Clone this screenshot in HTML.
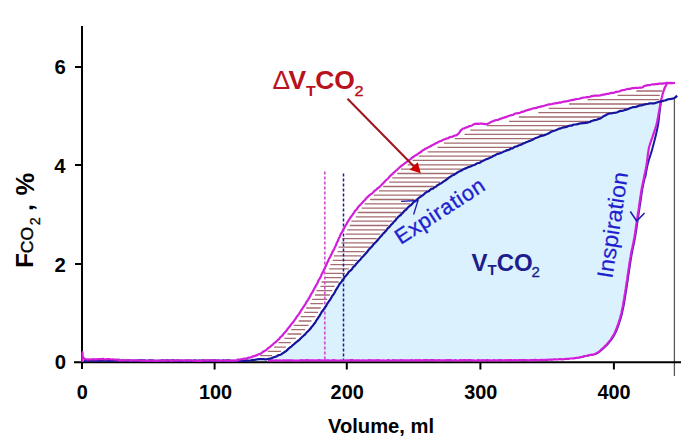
<!DOCTYPE html>
<html><head><meta charset="utf-8"><style>
html,body{margin:0;padding:0;background:#fff;}
body{width:685px;height:440px;overflow:hidden;position:relative;font-family:"Liberation Sans", sans-serif;}
svg{position:absolute;left:0;top:0;}
</style></head><body>
<svg width="685" height="440" viewBox="0 0 685 440" font-family='"Liberation Sans", sans-serif'>
<rect width="685" height="440" fill="#fff"/>
<path d="M84.0,360.5 L84.0,360.6 L84.8,360.6 L85.6,360.6 L86.5,360.6 L87.4,360.6 L88.3,360.6 L89.3,360.6 L90.3,360.6 L91.4,360.6 L92.5,360.6 L93.6,360.6 L94.8,360.6 L96.0,360.6 L97.3,360.6 L98.6,360.6 L99.9,360.6 L101.2,360.6 L102.6,360.6 L104.0,360.6 L105.4,360.6 L106.9,360.6 L108.4,360.6 L109.9,360.6 L111.4,360.6 L113.0,360.6 L114.6,360.6 L116.2,360.6 L117.8,360.6 L119.5,360.6 L121.1,360.6 L122.8,360.6 L124.5,360.6 L126.2,360.6 L128.0,360.6 L129.7,360.6 L131.5,360.6 L133.3,360.6 L135.1,360.6 L136.9,360.6 L138.7,360.6 L140.5,360.6 L142.3,360.6 L144.2,360.6 L146.0,360.6 L147.9,360.6 L149.7,360.6 L151.6,360.6 L153.5,360.6 L155.3,360.6 L157.2,360.6 L159.0,360.6 L160.9,360.6 L162.8,360.6 L164.6,360.6 L166.5,360.6 L168.4,360.6 L170.2,360.6 L172.0,360.6 L173.9,360.6 L175.7,360.6 L177.5,360.6 L179.3,360.6 L181.1,360.6 L182.9,360.6 L184.7,360.6 L186.4,360.6 L188.2,360.6 L189.9,360.6 L191.6,360.6 L193.3,360.6 L195.0,360.6 L196.6,360.6 L198.3,360.6 L199.9,360.6 L201.5,360.6 L203.1,360.6 L204.6,360.6 L206.1,360.6 L207.6,360.6 L209.1,360.6 L210.6,360.6 L212.0,360.6 L213.4,360.6 L214.7,360.6 L216.0,360.6 L217.3,360.6 L218.6,360.6 L219.8,360.6 L221.0,360.6 L222.2,360.6 L223.3,360.6 L224.4,360.6 L225.4,360.6 L226.4,360.6 L227.4,360.6 L228.3,360.6 L229.2,360.6 L230.0,360.6 L237.9,360.6 L242.4,360.7 L244.2,360.7 L244.3,360.8 L243.3,360.8 L242.0,360.8 L241.3,360.8 L242.0,360.8 L243.5,360.7 L245.0,360.6 L246.5,360.5 L248.1,360.4 L249.6,360.2 L251.2,360.1 L252.7,359.9 L254.2,359.8 L255.7,359.7 L257.3,359.6 L258.9,359.5 L260.6,359.5 L262.1,359.4 L263.7,359.4 L265.2,359.3 L266.6,359.2 L267.9,359.0 L269.8,358.6 L271.5,358.2 L273.0,357.6 L274.5,357.0 L276.1,356.4 L277.5,355.8 L278.8,355.3 L280.2,354.6 L281.6,353.9 L282.9,353.2 L284.3,352.3 L285.5,351.5 L286.6,350.6 L287.8,349.6 L289.0,348.6 L290.2,347.5 L291.4,346.4 L292.7,345.3 L293.9,344.3 L295.1,343.3 L296.4,342.3 L297.7,341.2 L299.0,340.1 L300.3,339.0 L301.6,337.8 L302.9,336.6 L303.9,335.6 L305.0,334.5 L306.1,333.4 L307.1,332.3 L308.2,331.1 L309.2,329.9 L310.3,328.8 L311.3,327.6 L312.3,326.4 L313.2,325.2 L314.2,323.9 L315.1,322.6 L316.0,321.2 L316.9,319.9 L317.8,318.5 L318.6,317.2 L319.5,315.8 L320.4,314.4 L321.3,313.0 L322.1,311.7 L322.9,310.5 L323.7,309.3 L324.5,308.1 L325.3,306.9 L326.2,305.6 L327.0,304.3 L328.0,302.9 L328.9,301.3 L330.0,299.7 L330.7,298.6 L331.5,297.4 L332.3,296.1 L333.1,294.8 L334.0,293.4 L334.9,292.0 L335.8,290.5 L336.7,289.1 L337.6,287.6 L338.5,286.2 L339.3,284.9 L340.2,283.5 L341.0,282.3 L341.8,281.1 L342.5,280.0 L343.2,279.0 L344.6,277.1 L345.7,275.7 L346.7,274.5 L347.7,273.5 L348.6,272.5 L349.7,271.4 L350.9,270.0 L351.9,268.9 L352.9,267.7 L353.9,266.5 L355.0,265.3 L356.2,264.0 L357.3,262.8 L358.4,261.5 L359.6,260.2 L360.7,258.9 L361.8,257.7 L362.9,256.5 L364.0,255.3 L365.1,254.0 L366.2,252.8 L367.2,251.6 L368.3,250.4 L369.4,249.2 L370.5,247.9 L371.6,246.7 L372.7,245.5 L373.7,244.4 L374.7,243.3 L375.7,242.2 L376.7,241.0 L377.7,239.9 L378.7,238.8 L379.7,237.7 L380.7,236.6 L381.7,235.4 L382.7,234.3 L383.7,233.2 L384.8,231.9 L386.0,230.6 L387.2,229.3 L388.3,227.9 L389.5,226.6 L390.6,225.3 L391.7,224.1 L392.8,222.9 L393.7,221.9 L394.6,220.9 L395.9,219.5 L396.6,218.7 L397.3,218.1 L398.3,217.1 L400.0,215.5 L400.8,214.7 L401.7,213.9 L402.7,212.9 L403.7,211.9 L404.8,210.8 L406.0,209.7 L407.2,208.5 L408.5,207.3 L409.7,206.2 L410.9,205.0 L412.1,203.9 L413.3,202.8 L414.4,201.8 L415.4,200.8 L416.4,200.0 L417.9,198.8 L419.2,197.7 L420.4,196.7 L421.6,195.8 L422.8,195.0 L423.9,194.2 L425.0,193.5 L426.2,192.7 L427.5,191.8 L428.8,190.9 L430.2,190.0 L431.6,189.1 L433.0,188.2 L434.5,187.4 L435.9,186.5 L437.3,185.6 L438.7,184.8 L440.0,183.9 L441.4,182.9 L442.8,182.0 L444.2,181.0 L445.6,180.0 L446.9,179.1 L448.2,178.2 L449.5,177.3 L450.9,176.4 L452.3,175.6 L453.6,174.7 L455.0,173.9 L456.4,173.1 L457.7,172.4 L459.1,171.6 L460.4,170.9 L461.8,170.2 L463.4,169.5 L464.9,168.8 L466.5,168.1 L468.0,167.4 L469.6,166.8 L471.1,166.2 L472.7,165.5 L474.1,164.9 L475.4,164.3 L476.8,163.7 L478.2,163.2 L479.6,162.6 L481.0,162.0 L482.3,161.3 L483.7,160.7 L485.1,160.0 L486.4,159.3 L487.8,158.6 L489.2,157.9 L490.5,157.2 L491.9,156.5 L493.2,155.8 L494.6,155.2 L496.1,154.5 L497.6,153.9 L499.1,153.3 L500.6,152.7 L502.1,152.1 L503.8,151.5 L505.5,150.8 L506.8,150.3 L508.2,149.7 L509.6,149.2 L511.1,148.6 L512.6,148.0 L514.1,147.4 L515.6,146.8 L517.1,146.2 L518.6,145.6 L520.0,145.0 L521.6,144.4 L523.1,143.7 L524.6,143.1 L526.1,142.4 L527.6,141.8 L529.1,141.1 L530.6,140.5 L532.1,139.8 L533.6,139.2 L535.1,138.6 L536.6,138.0 L538.2,137.3 L539.7,136.7 L541.2,136.1 L542.7,135.5 L544.3,134.9 L545.8,134.3 L547.3,133.7 L548.8,133.1 L550.3,132.4 L551.8,131.8 L553.3,131.1 L554.9,130.5 L556.4,129.9 L557.9,129.3 L559.4,128.7 L560.9,128.2 L562.4,127.7 L563.9,127.3 L565.5,126.9 L567.0,126.5 L568.5,126.1 L570.0,125.8 L571.6,125.5 L573.1,125.1 L574.6,124.8 L576.1,124.5 L577.7,124.2 L579.2,123.9 L580.8,123.6 L582.3,123.3 L583.8,123.0 L585.3,122.7 L586.8,122.4 L588.2,122.1 L589.8,121.7 L591.4,121.3 L593.0,120.9 L594.5,120.5 L596.0,120.1 L597.4,119.6 L598.8,119.2 L600.0,118.7 L601.6,117.9 L602.7,117.1 L603.8,116.2 L605.1,115.4 L606.8,114.6 L608.0,114.2 L609.4,113.8 L610.9,113.4 L612.4,113.1 L614.0,112.7 L615.7,112.4 L617.3,112.0 L618.9,111.6 L620.5,111.2 L622.0,110.8 L623.6,110.3 L625.1,109.8 L626.7,109.4 L628.2,108.9 L629.8,108.4 L631.3,107.9 L632.7,107.5 L634.1,107.1 L635.8,106.6 L637.4,106.2 L639.0,105.7 L640.6,105.3 L642.1,105.0 L643.5,104.6 L645.0,104.3 L646.7,104.0 L648.2,103.8 L649.8,103.7 L651.4,103.5 L652.9,103.3 L654.6,103.0 L656.1,102.7 L657.7,102.3 L659.3,101.9 L660.4,103.9 L660.1,105.4 L659.8,107.0 L659.5,108.5 L659.3,110.1 L659.0,111.6 L658.7,113.2 L658.4,114.7 L658.2,116.3 L657.9,117.8 L657.6,119.3 L657.3,120.9 L657.0,122.5 L656.6,124.1 L656.2,125.6 L655.7,127.1 L655.3,128.7 L654.7,130.2 L654.2,131.8 L653.7,133.4 L653.2,134.9 L652.7,136.4 L652.2,138.0 L651.6,139.4 L651.1,140.8 L650.6,142.2 L650.1,143.7 L649.6,145.4 L649.1,147.3 L648.8,148.6 L648.6,150.0 L648.4,151.4 L648.1,153.0 L647.9,154.6 L647.7,156.2 L647.5,157.8 L647.3,159.4 L647.1,161.0 L646.9,162.6 L646.6,164.1 L646.4,165.5 L646.1,167.3 L645.8,169.1 L645.4,170.8 L645.1,172.4 L644.7,174.1 L644.4,175.6 L644.1,177.2 L643.8,178.6 L643.5,180.0 L643.1,181.9 L642.8,183.4 L642.5,184.9 L642.2,186.4 L641.8,188.0 L641.5,190.0 L641.3,191.4 L641.0,192.8 L640.8,194.3 L640.6,195.9 L640.3,197.6 L640.1,199.3 L639.8,200.9 L639.6,202.6 L639.3,204.3 L639.1,205.9 L638.9,207.5 L638.6,209.1 L638.4,210.7 L638.1,212.3 L637.9,213.8 L637.7,215.4 L637.4,217.0 L637.2,218.6 L636.9,220.2 L636.7,221.8 L636.5,223.4 L636.2,225.0 L636.0,226.6 L635.8,228.2 L635.6,229.8 L635.3,231.3 L635.1,232.9 L634.8,234.5 L634.6,236.1 L634.3,237.7 L634.0,239.3 L633.7,240.9 L633.4,242.5 L633.0,244.1 L632.7,245.7 L632.4,247.3 L632.0,248.9 L631.7,250.4 L631.4,252.0 L631.1,253.6 L630.8,255.2 L630.6,256.7 L630.3,258.2 L630.1,259.7 L629.8,261.2 L629.6,262.7 L629.3,264.3 L629.1,265.8 L628.9,267.4 L628.6,269.1 L628.4,270.5 L628.2,272.0 L628.0,273.4 L627.7,274.9 L627.5,276.4 L627.3,277.9 L627.1,279.4 L626.9,281.0 L626.6,282.5 L626.4,284.1 L626.2,285.7 L625.9,287.3 L625.7,288.8 L625.4,290.4 L625.2,292.0 L624.9,293.7 L624.6,295.3 L624.4,297.0 L624.1,298.7 L623.8,300.3 L623.6,301.9 L623.3,303.5 L623.0,305.0 L622.8,306.4 L622.5,307.7 L622.1,309.7 L621.7,311.4 L621.4,313.0 L621.0,314.5 L620.6,316.0 L620.2,317.4 L619.8,318.9 L619.3,320.4 L618.8,321.8 L618.4,323.3 L617.9,324.8 L617.4,326.3 L616.8,327.7 L616.3,329.2 L615.7,330.6 L615.1,331.9 L614.5,333.2 L613.7,334.8 L612.8,336.2 L611.9,337.7 L611.0,339.0 L610.1,340.3 L609.1,341.5 L608.2,342.7 L607.1,344.0 L606.1,345.1 L605.0,346.2 L603.9,347.2 L602.9,348.2 L601.8,349.1 L600.6,350.2 L599.4,351.2 L598.2,352.2 L596.9,353.1 L595.4,353.8 L594.0,354.3 L592.5,354.7 L590.8,355.0 L589.2,355.3 L587.5,355.6 L585.9,355.9 L584.4,356.2 L583.0,356.6 L581.6,356.9 L580.1,357.2 L578.4,357.5 L576.4,357.8 L575.1,358.0 L573.9,358.1 L572.7,358.3 L571.5,358.5 L570.1,358.6 L568.6,358.8 L566.9,358.9 L564.9,359.0 L562.6,359.2 L560.0,359.3 L558.9,359.3 L557.9,359.4 L556.9,359.4 L555.9,359.5 L555.0,359.5 L554.0,359.6 L553.0,359.6 L552.1,359.6 L551.0,359.7 L550.0,359.7 L548.9,359.8 L547.7,359.8 L546.5,359.8 L545.2,359.9 L543.8,359.9 L542.3,359.9 L540.7,360.0 L539.0,360.0 L537.1,360.0 L535.2,360.1 L533.1,360.1 L530.8,360.1 L528.4,360.1 L525.8,360.2 L523.0,360.2 L520.0,360.2 L519.0,360.2 L517.9,360.2 L516.9,360.2 L515.8,360.2 L514.7,360.2 L513.5,360.2 L512.3,360.2 L511.2,360.2 L509.9,360.2 L508.7,360.3 L507.4,360.3 L506.1,360.3 L504.8,360.3 L503.5,360.3 L502.2,360.3 L500.8,360.3 L499.4,360.3 L498.0,360.3 L496.6,360.3 L495.2,360.3 L493.7,360.3 L492.2,360.3 L490.7,360.3 L489.2,360.3 L487.7,360.3 L486.2,360.3 L484.7,360.3 L483.1,360.3 L481.6,360.3 L480.0,360.3 L478.4,360.3 L476.8,360.3 L475.2,360.3 L473.6,360.3 L472.0,360.3 L470.3,360.3 L468.7,360.3 L467.1,360.3 L465.4,360.3 L463.8,360.3 L462.1,360.3 L460.4,360.3 L458.8,360.3 L457.1,360.3 L455.4,360.3 L453.7,360.3 L452.1,360.3 L450.4,360.3 L448.7,360.3 L447.1,360.3 L445.4,360.3 L443.7,360.3 L442.0,360.3 L440.4,360.3 L438.7,360.3 L437.0,360.3 L435.4,360.3 L433.7,360.3 L432.1,360.3 L430.5,360.3 L428.8,360.3 L427.2,360.3 L425.6,360.3 L424.0,360.3 L422.4,360.3 L420.8,360.3 L419.2,360.3 L417.7,360.3 L416.1,360.3 L414.6,360.3 L413.1,360.3 L411.6,360.3 L410.1,360.3 L408.6,360.3 L407.1,360.3 L405.6,360.3 L404.2,360.3 L402.8,360.3 L401.4,360.3 L400.0,360.3 L398.3,360.3 L396.7,360.3 L395.0,360.3 L393.3,360.3 L391.6,360.3 L389.9,360.3 L388.2,360.3 L386.5,360.3 L384.8,360.3 L383.1,360.3 L381.4,360.3 L379.7,360.3 L378.0,360.3 L376.3,360.3 L374.6,360.3 L372.9,360.3 L371.1,360.3 L369.4,360.3 L367.7,360.3 L366.0,360.3 L364.4,360.3 L362.7,360.3 L361.0,360.3 L359.3,360.3 L357.6,360.3 L356.0,360.3 L354.3,360.3 L352.6,360.3 L351.0,360.3 L349.4,360.3 L347.7,360.3 L346.1,360.3 L344.5,360.3 L342.9,360.4 L341.3,360.4 L339.7,360.4 L338.2,360.4 L336.6,360.4 L335.1,360.4 L333.5,360.4 L332.0,360.4 L330.5,360.4 L329.0,360.4 L327.6,360.4 L326.1,360.4 L324.7,360.4 L323.2,360.4 L321.8,360.4 L320.4,360.4 L319.1,360.4 L317.7,360.4 L316.4,360.4 L315.1,360.4 L313.8,360.4 L312.5,360.4 L311.2,360.4 L310.0,360.4 L308.8,360.4 L307.6,360.4 L306.5,360.4 L305.3,360.4 L304.2,360.4 L303.1,360.4 L302.1,360.4 L301.0,360.4 L300.0,360.4 L297.0,360.4 L294.2,360.4 L291.6,360.4 L289.2,360.4 L287.0,360.4 L285.0,360.4 L283.1,360.4 L281.4,360.4 L279.8,360.4 L278.4,360.5 L277.1,360.5 L275.9,360.5 L274.8,360.5 L273.8,360.5 L272.8,360.5 L271.9,360.5 L271.1,360.5 L270.3,360.5 L269.5,360.5 L268.8,360.5 L268.0,360.5 L84.0,360.5 Z" fill="#dbf1fd" stroke="none"/>
<path d="M636.3,91.0 H662.0 M617.6,95.3 H659.8 M587.7,99.7 H659.1 M569.0,104.0 H644.8 M548.7,108.4 H628.4 M538.3,112.7 H611.6 M518.9,117.0 H600.6 M509.1,121.4 H589.3 M486.8,125.7 H568.9 M470.3,130.1 H553.4 M464.5,134.4 H543.4 M454.9,138.7 H532.9 M443.9,143.1 H523.0 M437.5,147.4 H511.5 M427.6,151.8 H500.9 M418.7,156.1 H490.9 M412.6,160.4 H482.7 M407.6,164.8 H471.9 M401.0,169.1 H461.9 M397.3,173.5 H453.9 M392.3,177.8 H447.3 M389.2,182.1 H440.1 M383.2,186.5 H433.8 M379.0,190.8 H427.1 M373.8,195.2 H421.1 M370.1,199.5 H414.5 M364.6,203.8 H410.0 M361.7,208.2 H405.7 M357.7,212.5 H401.6 M355.8,216.9 H396.1 M351.4,221.2 H392.2 M349.7,225.5 H388.6 M347.2,229.9 H385.1 M345.6,234.2 H380.3 M342.2,238.6 H376.7 M341.2,242.9 H373.2 M338.5,247.2 H369.6 M337.6,251.6 H364.7 M333.9,255.9 H361.0 M332.7,260.3 H357.4 M330.4,264.6 H353.7 M329.1,268.9 H348.8 M325.6,273.3 H345.0 M324.4,277.6 H341.5 M321.6,282.0 H338.7 M320.5,286.3 H334.8 M316.5,290.6 H332.3 M315.0,295.0 H329.8 M312.2,299.3 H327.3 M310.3,303.7 H323.3 M306.2,308.0 H320.7 M304.2,312.3 H318.0 M300.7,316.7 H315.4 M298.7,321.0 H311.5 M293.8,325.4 H308.6 M291.3,329.7 H305.2 M287.5,334.0 H301.4 M284.3,338.4 H295.8 M278.4,342.7 H290.9 M274.1,347.1 H285.9 M267.8,351.4 H281.0 M260.3,355.7 H272.0" stroke="#a46c70" stroke-width="1.3" fill="none"/>
<!-- dashed lines -->
<line x1="324.8" y1="171.5" x2="324.8" y2="361" stroke="#d050d0" stroke-width="1.7" stroke-dasharray="3,2"/>
<line x1="343.5" y1="173.6" x2="343.5" y2="361" stroke="#1a1a9a" stroke-width="1.5" stroke-dasharray="3,2"/>
<!-- gray vertical line -->
<line x1="674.4" y1="99" x2="674.4" y2="376" stroke="#5a5a5a" stroke-width="1.3"/>
<!-- axes -->
<path d="M82,26 V369 M74,362.2 H681 M75,67 H82 M75,164.9 H82 M75,264 H82 M214.6,362 V369.5 M346.8,362 V369.5 M480.4,362 V369.5 M613.9,362 V369.5" stroke="#000" stroke-width="2" fill="none"/>
<!-- curves -->
<path d="M661.0,100.0 C660.8,102.2 660.0,109.0 659.5,113.0 C659.0,117.0 658.8,120.4 658.2,124.0 C657.6,127.6 657.0,130.2 656.0,134.5 C655.0,138.8 653.3,145.2 652.0,150.0 C650.7,154.8 649.2,158.3 648.0,163.0 C646.8,167.7 645.5,175.5 645.0,178.0" stroke="#1a1aa8" stroke-width="2" fill="none"/>
<path d="M646.3,170.8 L646.0,172.4 L645.6,174.1 L645.3,175.6 L645.0,177.2 L644.7,178.6 L644.4,180.0 L644.0,181.9 L643.7,183.4 L643.4,184.9 L643.1,186.4 L642.7,188.0 L642.4,190.0 L642.2,191.4 L641.9,192.8 L641.7,194.3 L641.5,195.9 L641.2,197.6 L641.0,199.3 L640.7,200.9 L640.5,202.6 L640.2,204.3 L640.0,205.9 L639.8,207.5 L639.5,209.1 L639.3,210.7 L639.0,212.3 L638.8,213.8 L638.6,215.4 L638.3,217.0 L638.1,218.6 L637.8,220.2 L637.6,221.8 L637.4,223.4 L637.1,225.0 L636.9,226.6 L636.7,228.2 L636.5,229.8 L636.2,231.3 L636.0,232.9 L635.7,234.5 L635.5,236.1 L635.2,237.7 L634.9,239.3 L634.6,240.9 L634.3,242.5 L633.9,244.1 L633.6,245.7 L633.3,247.3 L632.9,248.9 L632.6,250.4 L632.3,252.0 L632.0,253.6 L631.7,255.2 L631.5,256.7 L631.2,258.2 L631.0,259.7 L630.7,261.2 L630.5,262.7 L630.2,264.3 L630.0,265.8 L629.8,267.4 L629.5,269.1 L629.3,270.5 L629.1,272.0 L628.9,273.4 L628.6,274.9 L628.4,276.4 L628.2,277.9 L628.0,279.4 L627.8,281.0 L627.5,282.5 L627.3,284.1 L627.1,285.7 L626.8,287.3 L626.6,288.8 L626.3,290.4 L626.1,292.0 L625.8,293.7 L625.5,295.3 L625.3,297.0 L625.0,298.7 L624.7,300.3 L624.5,301.9 L624.2,303.5 L623.9,305.0 L623.7,306.4 L623.4,307.7 L623.0,309.7 L622.6,311.4 L622.3,313.0 L621.9,314.5 L621.5,316.0 L621.1,317.4 L620.7,318.9 L620.2,320.4 L619.7,321.8 L619.3,323.3 L618.8,324.8 L618.3,326.3 L617.7,327.7 L617.2,329.2 L616.6,330.6 L616.0,331.9 L615.4,333.2 L614.6,334.8 L613.7,336.2 L612.8,337.7 L611.9,339.0 L611.0,340.3 L610.0,341.5 L609.1,342.7 L608.0,344.0 L607.0,345.1 L605.9,346.2 L604.8,347.2 L603.8,348.2 L602.7,349.1 L601.5,350.2 L600.3,351.2 L599.1,352.2 L597.8,353.1 L596.3,353.8 L594.9,354.3 L593.4,354.7 L591.7,355.0 L590.1,355.3 L588.4,355.6 L586.8,355.9 L585.3,356.2 L583.9,356.6 L582.5,356.9 L581.0,357.2 L579.3,357.5 L577.3,357.8 L576.0,358.0" stroke="#3a1ab0" stroke-width="1.6" fill="none"/>
<path d="M666.8,83.5 L666.3,84.7 L665.7,86.0 L664.9,87.5 L664.1,89.5 L663.4,91.4 L663.0,92.8 L662.6,94.2 L662.2,95.9 L661.8,97.6 L661.4,98.9 L661.0,100.8 L660.7,102.2 L660.4,103.9 L660.1,105.6 L659.8,107.2 L659.5,108.6 L659.3,110.0 L659.0,111.8 L658.7,113.1 L658.4,114.7 L658.2,116.4 L657.9,117.7 L657.6,119.2 L657.3,121.1 L657.0,122.6 L656.6,124.0 L656.2,125.5 L655.7,127.0 L655.3,128.5 L654.7,130.2 L654.2,132.0 L653.7,133.2 L653.2,134.8 L652.7,136.3 L652.2,137.8 L651.6,139.4 L651.1,140.9 L650.6,142.3 L650.1,143.7 L649.6,145.5 L649.1,147.1 L648.8,148.5 L648.6,150.1 L648.4,151.3 L648.1,152.9 L647.9,154.5 L647.7,156.1 L647.5,157.8 L647.3,159.3 L647.1,160.9 L646.9,162.8 L646.6,163.9 L646.4,165.7 L646.1,167.2 L645.8,169.3 L645.4,170.8 L645.1,172.5 L644.7,173.9 L644.4,175.5 L644.1,177.3 L643.8,178.5 L643.5,179.9 L643.1,182.0 L642.8,183.6 L642.5,184.7 L642.2,186.6 L641.8,188.1 L641.5,190.0 L641.3,191.2 L641.0,192.8 L640.8,194.5 L640.6,195.8 L640.3,197.4 L640.1,199.1 L639.8,200.8 L639.6,202.6 L639.3,204.4 L639.1,205.7 L638.9,207.4 L638.6,209.3 L638.4,210.9 L638.1,212.5 L637.9,213.7 L637.7,215.4 L637.4,217.2 L637.2,218.6 L636.9,220.3 L636.7,221.7 L636.5,223.2 L636.2,224.9 L636.0,226.7 L635.8,228.3 L635.6,229.8 L635.3,231.3 L635.1,232.9 L634.8,234.5 L634.6,236.1 L634.3,237.8 L634.0,239.2 L633.7,240.9 L633.4,242.7 L633.0,244.2 L632.7,245.5 L632.4,247.5 L632.0,249.0 L631.7,250.3 L631.4,251.9 L631.1,253.5 L630.8,255.0 L630.6,256.9 L630.3,258.2 L630.1,259.8 L629.8,261.1 L629.6,262.5 L629.3,264.4 L629.1,266.0 L628.9,267.6 L628.6,269.2 L628.4,270.5 L628.2,272.1 L628.0,273.2 L627.7,274.9 L627.5,276.4 L627.3,277.8 L627.1,279.5 L626.9,280.9 L626.6,282.5 L626.4,284.1 L626.2,285.6 L625.9,287.2 L625.7,288.9 L625.4,290.6 L625.2,292.2 L624.9,293.8 L624.6,295.5 L624.4,296.9 L624.1,298.9 L623.8,300.2 L623.6,301.8 L623.3,303.5 L623.0,305.1 L622.8,306.3 L622.5,307.8 L622.1,309.6 L621.7,311.6 L621.4,313.0 L621.0,314.5 L620.6,316.0 L620.2,317.5 L619.8,319.1 L619.3,320.4 L618.8,321.8 L618.4,323.3 L617.9,324.6 L617.4,326.2 L616.8,327.9 L616.3,329.3 L615.7,330.4 L615.1,332.1 L614.5,333.2 L613.7,334.9 L612.8,336.2 L611.9,337.6 L611.0,339.0 L610.1,340.5 L609.1,341.5 L608.2,342.8 L607.1,344.1 L606.1,345.1 L605.0,346.1 L603.9,347.2 L602.9,348.1 L601.8,349.0 L600.6,350.3 L599.4,351.4 L598.2,352.2 L596.9,352.9 L595.4,353.7 L594.0,354.3 L592.5,354.7 L590.8,354.9 L589.2,355.1 L587.5,355.5 L585.9,355.8 L584.4,356.0 L583.0,356.6 L581.6,357.1 L580.1,357.2 L578.4,357.6 L576.4,357.9 L575.1,358.1 L573.9,358.3 L572.7,358.3 L571.5,358.5 L570.1,358.5 L568.6,358.9 L566.9,358.9 L564.9,359.0 L562.6,359.3 L560.0,359.2 L558.9,359.2 L557.9,359.5 L556.9,359.5 L555.9,359.3 L555.0,359.3 L554.0,359.5 L553.0,359.4 L552.1,359.8 L551.0,359.6 L550.0,359.6 L548.9,359.7 L547.7,359.8 L546.5,359.8 L545.2,359.9 L543.8,360.0 L542.3,359.9 L540.7,359.8 L539.0,360.2 L537.1,360.1 L535.2,359.9 L533.1,360.1 L530.8,360.2 L528.4,360.3 L525.8,360.0 L523.0,360.0 L520.0,360.2 L519.0,360.2 L517.9,360.4 L516.9,360.3 L515.8,360.2 L514.7,360.2 L513.5,360.3 L512.3,360.4 L511.2,360.1 L509.9,360.2 L508.7,360.1 L507.4,360.3 L506.1,360.1 L504.8,360.4 L503.5,360.3 L502.2,360.3 L500.8,360.1 L499.4,360.2 L498.0,360.3 L496.6,360.4 L495.2,360.3 L493.7,360.2 L492.2,360.5 L490.7,360.4 L489.2,360.3 L487.7,360.2 L486.2,360.2 L484.7,360.5 L483.1,360.1 L481.6,360.3 L480.0,360.3 L478.4,360.2 L476.8,360.4 L475.2,360.5 L473.6,360.4 L472.0,360.4 L470.3,360.2 L468.7,360.1 L467.1,360.3 L465.4,360.2 L463.8,360.2 L462.1,360.4 L460.4,360.2 L458.8,360.4 L457.1,360.5 L455.4,360.1 L453.7,360.5 L452.1,360.3 L450.4,360.2 L448.7,360.2 L447.1,360.1 L445.4,360.3 L443.7,360.3 L442.0,360.4 L440.4,360.4 L438.7,360.1 L437.0,360.3 L435.4,360.3 L433.7,360.2 L432.1,360.2 L430.5,360.2 L428.8,360.4 L427.2,360.2 L425.6,360.1 L424.0,360.2 L422.4,360.3 L420.8,360.3 L419.2,360.2 L417.7,360.4 L416.1,360.2 L414.6,360.4 L413.1,360.3 L411.6,360.2 L410.1,360.4 L408.6,360.3 L407.1,360.3 L405.6,360.3 L404.2,360.3 L402.8,360.3 L401.4,360.1 L400.0,360.4 L398.3,360.4 L396.7,360.3 L395.0,360.3 L393.3,360.2 L391.6,360.5 L389.9,360.4 L388.2,360.2 L386.5,360.4 L384.8,360.5 L383.1,360.3 L381.4,360.5 L379.7,360.3 L378.0,360.2 L376.3,360.4 L374.6,360.3 L372.9,360.4 L371.1,360.4 L369.4,360.2 L367.7,360.3 L366.0,360.5 L364.4,360.3 L362.7,360.3 L361.0,360.5 L359.3,360.3 L357.6,360.3 L356.0,360.4 L354.3,360.5 L352.6,360.2 L351.0,360.2 L349.4,360.4 L347.7,360.4 L346.1,360.3 L344.5,360.5 L342.9,360.5 L341.3,360.4 L339.7,360.5 L338.2,360.5 L336.6,360.5 L335.1,360.3 L333.5,360.2 L332.0,360.4 L330.5,360.5 L329.0,360.3 L327.6,360.4 L326.1,360.4 L324.7,360.3 L323.2,360.5 L321.8,360.4 L320.4,360.3 L319.1,360.2 L317.7,360.4 L316.4,360.3 L315.1,360.5 L313.8,360.3 L312.5,360.3 L311.2,360.3 L310.0,360.3 L308.8,360.4 L307.6,360.2 L306.5,360.2 L305.3,360.4 L304.2,360.3 L303.1,360.4 L302.1,360.3 L301.0,360.2 L300.0,360.4 L297.0,360.6 L294.2,360.6 L291.6,360.4 L289.2,360.4 L287.0,360.3 L285.0,360.3 L283.1,360.4 L281.4,360.6 L279.8,360.3 L278.4,360.6 L277.1,360.4 L275.9,360.4 L274.8,360.4 L273.8,360.7 L272.8,360.4 L271.9,360.5 L271.1,360.5 L270.3,360.4 L269.5,360.4 L268.8,360.7 L268.0,360.5" stroke="#d21ed8" stroke-width="2.2" fill="none" stroke-linejoin="round"/>
<path d="M84.0,360.6 L84.8,360.6 L85.6,360.4 L86.5,360.7 L87.4,360.7 L88.3,360.4 L89.3,360.9 L90.3,360.7 L91.4,360.3 L92.5,360.9 L93.6,360.3 L94.8,360.5 L96.0,360.8 L97.3,360.7 L98.6,360.6 L99.9,360.7 L101.2,360.6 L102.6,360.5 L104.0,360.4 L105.4,360.3 L106.9,360.7 L108.4,360.8 L109.9,360.6 L111.4,360.8 L113.0,360.5 L114.6,360.4 L116.2,360.5 L117.8,360.9 L119.5,360.3 L121.1,360.6 L122.8,360.4 L124.5,360.8 L126.2,360.5 L128.0,360.5 L129.7,360.5 L131.5,360.6 L133.3,360.8 L135.1,360.5 L136.9,360.8 L138.7,360.3 L140.5,360.4 L142.3,360.3 L144.2,360.3 L146.0,360.8 L147.9,360.7 L149.7,360.4 L151.6,360.4 L153.5,360.5 L155.3,360.8 L157.2,360.8 L159.0,360.8 L160.9,360.7 L162.8,360.3 L164.6,360.5 L166.5,360.4 L168.4,360.6 L170.2,360.6 L172.0,360.4 L173.9,360.4 L175.7,360.8 L177.5,360.3 L179.3,360.8 L181.1,360.9 L182.9,360.9 L184.7,360.5 L186.4,360.6 L188.2,360.6 L189.9,360.7 L191.6,360.9 L193.3,360.7 L195.0,360.4 L196.6,360.8 L198.3,360.6 L199.9,360.7 L201.5,360.7 L203.1,360.2 L204.6,360.8 L206.1,360.7 L207.6,360.6 L209.1,360.6 L210.6,360.6 L212.0,360.4 L213.4,360.6 L214.7,360.3 L216.0,360.6 L217.3,360.7 L218.6,360.6 L219.8,360.6 L221.0,360.9 L222.2,360.9 L223.3,360.3 L224.4,360.8 L225.4,360.7 L226.4,360.3 L227.4,360.5 L228.3,360.4 L229.2,360.3 L230.0,360.6 L237.9,360.9 L242.4,360.5 L244.2,361.0 L244.3,360.9 L243.3,360.6 L242.0,361.1 L241.3,360.9 L242.0,361.1 L243.5,360.9 L245.0,360.8 L246.5,360.4 L248.1,360.6 L249.6,360.5 L251.2,360.3 L252.7,359.9 L254.2,360.0 L255.7,359.7 L257.3,359.3 L258.9,359.2 L260.6,359.2 L262.1,359.2 L263.7,359.1 L265.2,359.3 L266.6,359.3 L267.9,359.0 L269.8,358.6 L271.5,358.3 L273.0,357.5 L274.5,357.0 L276.1,356.6 L277.5,355.8 L278.8,355.0 L280.2,354.9 L281.6,354.1 L282.9,353.1 L284.3,352.2 L285.5,351.5 L286.6,350.6 L287.8,349.4 L289.0,348.2 L290.2,347.3 L291.4,346.6 L292.7,345.1 L293.9,344.3 L295.1,343.1 L296.4,342.1 L297.7,341.0 L299.0,340.1 L300.3,338.8 L301.6,337.5 L302.9,336.3 L303.9,335.3 L305.0,334.5 L306.1,333.1 L307.1,331.9 L308.2,331.1 L309.2,329.9 L310.3,328.9 L311.3,327.3 L312.3,326.3 L313.2,325.1 L314.2,323.6 L315.1,322.9 L316.0,321.0 L316.9,319.6 L317.8,318.5 L318.6,316.9 L319.5,315.9 L320.4,314.3 L321.3,312.7 L322.1,311.4 L322.9,310.7 L323.7,309.2 L324.5,308.3 L325.3,306.9 L326.2,305.9 L327.0,304.1 L328.0,302.7 L328.9,301.2 L330.0,299.9 L330.7,298.7 L331.5,297.3 L332.3,295.8 L333.1,294.9 L334.0,293.7 L334.9,292.0 L335.8,290.2 L336.7,288.8 L337.6,287.4 L338.5,286.0 L339.3,284.5 L340.2,283.2 L341.0,282.4 L341.8,281.4 L342.5,279.8 L343.2,279.3 L344.6,277.1 L345.7,275.9 L346.7,274.8 L347.7,273.8 L348.6,272.1 L349.7,271.2 L350.9,270.1 L351.9,269.2 L352.9,267.5 L353.9,266.4 L355.0,265.6 L356.2,263.8 L357.3,262.7 L358.4,261.4 L359.6,260.3 L360.7,259.2 L361.8,257.5 L362.9,256.6 L364.0,255.4 L365.1,254.3 L366.2,252.9 L367.2,251.9 L368.3,250.3 L369.4,249.1 L370.5,247.8 L371.6,246.9 L372.7,245.5 L373.7,244.2 L374.7,243.0 L375.7,242.3 L376.7,241.1 L377.7,240.1 L378.7,238.7 L379.7,237.7 L380.7,236.3 L381.7,235.6 L382.7,234.0 L383.7,233.2 L384.8,232.1 L386.0,230.8 L387.2,229.0 L388.3,227.8 L389.5,226.9 L390.6,225.4 L391.7,224.3 L392.8,223.2 L393.7,221.8 L394.6,221.2 L395.9,219.7 L396.6,218.6 L397.3,218.0 L398.3,216.8 L400.0,215.4 L400.8,215.1 L401.7,213.6 L402.7,213.0 L403.7,211.6 L404.8,210.5 L406.0,209.8 L407.2,208.3 L408.5,207.0 L409.7,205.9 L410.9,205.1 L412.1,203.9 L413.3,202.5 L414.4,201.6 L415.4,201.2 L416.4,199.8 L417.9,198.8 L419.2,197.6 L420.4,196.9 L421.6,195.9 L422.8,195.2 L423.9,194.3 L425.0,193.2 L426.2,192.4 L427.5,191.5 L428.8,191.1 L430.2,189.7 L431.6,188.8 L433.0,188.6 L434.5,187.2 L435.9,186.8 L437.3,185.3 L438.7,184.7 L440.0,183.7 L441.4,183.2 L442.8,182.0 L444.2,181.1 L445.6,180.2 L446.9,179.4 L448.2,178.1 L449.5,177.3 L450.9,176.4 L452.3,175.3 L453.6,175.0 L455.0,174.0 L456.4,173.3 L457.7,172.2 L459.1,171.6 L460.4,170.9 L461.8,170.4 L463.4,169.2 L464.9,168.6 L466.5,168.1 L468.0,167.1 L469.6,166.8 L471.1,166.3 L472.7,165.4 L474.1,165.0 L475.4,164.4 L476.8,163.5 L478.2,163.0 L479.6,162.9 L481.0,161.8 L482.3,161.3 L483.7,160.4 L485.1,159.8 L486.4,159.1 L487.8,158.9 L489.2,158.1 L490.5,157.5 L491.9,156.9 L493.2,155.9 L494.6,155.5 L496.1,154.6 L497.6,153.8 L499.1,153.6 L500.6,153.0 L502.1,152.4 L503.8,151.5 L505.5,151.0 L506.8,150.2 L508.2,150.1 L509.6,149.5 L511.1,148.4 L512.6,148.3 L514.1,147.2 L515.6,146.5 L517.1,146.3 L518.6,145.4 L520.0,145.0 L521.6,144.5 L523.1,143.4 L524.6,143.2 L526.1,142.2 L527.6,141.7 L529.1,141.0 L530.6,140.6 L532.1,140.0 L533.6,139.1 L535.1,138.3 L536.6,137.8 L538.2,137.3 L539.7,136.4 L541.2,135.9 L542.7,135.7 L544.3,135.1 L545.8,134.6 L547.3,134.0 L548.8,133.3 L550.3,132.3 L551.8,131.6 L553.3,131.0 L554.9,130.5 L556.4,129.9 L557.9,129.3 L559.4,128.6 L560.9,128.4 L562.4,127.6 L563.9,127.3 L565.5,127.2 L567.0,126.7 L568.5,126.0 L570.0,125.6 L571.6,125.7 L573.1,124.8 L574.6,124.5 L576.1,124.5 L577.7,124.2 L579.2,123.6 L580.8,123.3 L582.3,123.1 L583.8,123.2 L585.3,122.7 L586.8,122.8 L588.2,122.3 L589.8,122.0 L591.4,121.0 L593.0,120.7 L594.5,120.1 L596.0,120.0 L597.4,119.5 L598.8,118.8 L600.0,118.7 L601.6,117.6 L602.7,116.9 L603.8,116.0 L605.1,115.6 L606.8,114.5 L608.0,114.0 L609.4,113.5 L610.9,113.4 L612.4,113.2 L614.0,112.8 L615.7,112.6 L617.3,112.2 L618.9,111.4 L620.5,110.9 L622.0,110.9 L623.6,110.5 L625.1,109.8 L626.7,109.6 L628.2,108.9 L629.8,108.2 L631.3,107.7 L632.7,107.2 L634.1,107.2 L635.8,106.9 L637.4,106.4 L639.0,105.7 L640.6,105.4 L642.1,105.3 L643.5,104.8 L645.0,104.4 L646.7,104.0 L648.2,103.8 L649.8,103.4 L651.4,103.3 L652.9,103.4 L654.6,103.3 L656.1,102.7 L657.7,102.2 L659.3,101.8 L660.9,101.4 L662.5,101.2 L664.1,100.5 L665.5,100.5 L667.4,99.5 L669.2,99.2 L670.9,99.0 L672.4,98.6 L673.7,98.4 L675.9,97.0 L677.0,95.5" stroke="#14149c" stroke-width="2.2" fill="none" stroke-linejoin="round"/>
<path d="M82.5,362.0 L82.5,360.6 L82.4,359.0 L82.4,356.8 L82.4,354.9 L82.4,353.3 L82.5,352.2 L82.5,352.8 L82.5,355.3 L83.0,357.2 L84.5,358.7 L85.5,359.5 L86.7,359.3 L88.1,359.6 L89.6,359.4 L91.2,359.5 L93.0,359.1 L94.7,359.3 L96.5,359.4 L98.3,359.1 L100.0,359.2 L101.4,359.2 L102.9,358.9 L104.5,359.3 L106.1,359.3 L107.7,359.1 L109.3,359.0 L110.9,359.5 L112.5,359.3 L114.0,359.5 L115.4,359.6 L116.8,359.6 L118.0,359.8 L119.1,359.6 L118.6,360.0 L117.9,359.9 L118.3,360.4 L121.2,360.5 L128.0,360.2 L128.9,360.2 L129.8,360.2 L130.8,360.7 L131.8,360.4 L132.9,360.5 L134.0,360.3 L135.2,360.5 L136.5,360.4 L137.8,360.4 L139.1,360.5 L140.5,360.5 L141.9,360.7 L143.4,360.6 L144.9,360.7 L146.4,360.7 L148.0,360.8 L149.6,360.6 L151.2,360.3 L152.9,360.7 L154.6,360.8 L156.3,360.8 L158.0,360.6 L159.8,360.7 L161.5,360.4 L163.3,360.7 L165.1,360.6 L166.9,360.4 L168.8,360.3 L170.6,360.8 L172.4,360.8 L174.3,360.3 L176.1,360.7 L178.0,360.5 L179.9,360.4 L181.7,360.4 L183.6,360.7 L185.4,360.8 L187.2,360.3 L189.1,360.6 L190.9,360.3 L192.7,360.7 L194.5,360.5 L196.2,360.8 L198.0,360.9 L199.7,360.6 L201.4,360.9 L203.1,360.5 L204.8,360.3 L206.4,360.6 L208.0,360.3 L209.6,360.4 L211.1,360.5 L212.6,360.6 L214.1,360.3 L215.5,360.3 L216.9,360.8 L218.2,360.4 L219.5,360.8 L220.8,360.8 L222.0,360.5 L223.1,360.5 L224.2,360.5 L225.2,360.6 L226.2,360.6 L227.1,360.5 L228.0,360.6 L234.9,360.7 L238.0,360.3 L238.7,360.1 L238.1,360.1 L237.4,359.6 L238.0,359.5 L239.5,359.7 L240.9,359.3 L242.3,359.2 L243.7,358.7 L245.3,358.7 L247.0,358.3 L248.3,357.7 L249.7,357.6 L251.1,357.2 L252.7,356.4 L254.2,356.2 L255.7,355.6 L257.2,355.1 L258.7,354.3 L260.0,353.9 L261.4,353.2 L262.7,352.0 L264.0,351.2 L265.3,350.6 L266.5,349.9 L267.7,348.5 L268.9,347.7 L270.2,346.8 L271.3,345.7 L272.5,344.8 L273.6,343.8 L274.7,342.8 L275.9,342.0 L277.0,340.8 L278.1,339.7 L279.3,338.8 L280.4,337.2 L281.4,336.4 L282.5,335.4 L283.5,334.0 L284.5,332.7 L285.5,331.9 L286.6,330.3 L287.6,328.9 L288.6,327.8 L289.7,326.6 L290.7,325.0 L291.6,323.9 L292.6,322.7 L293.5,321.7 L294.4,320.2 L295.3,319.2 L296.3,317.5 L297.2,316.2 L298.1,315.1 L299.0,313.9 L300.0,312.3 L300.9,310.7 L301.8,309.4 L302.6,308.3 L303.5,306.7 L304.4,305.7 L305.3,304.3 L306.2,302.5 L307.0,301.2 L307.9,300.1 L308.7,298.6 L309.5,297.3 L310.3,295.7 L311.1,294.3 L312.0,292.8 L312.8,291.6 L313.7,289.8 L314.5,288.3 L315.3,286.9 L316.0,285.5 L316.8,284.1 L317.5,283.0 L318.2,281.2 L318.8,279.9 L319.6,278.8 L320.4,277.3 L321.1,275.9 L321.7,274.2 L322.4,273.2 L323.1,271.8 L323.8,269.8 L324.5,268.7 L325.2,267.4 L325.9,265.8 L326.6,264.2 L327.3,262.6 L328.1,261.1 L328.8,259.4 L329.6,257.7 L330.2,256.7 L330.9,255.2 L331.6,254.1 L332.3,252.2 L333.0,251.2 L333.7,249.7 L334.4,248.4 L335.1,246.9 L335.8,245.6 L336.4,244.0 L337.1,242.2 L337.8,241.2 L338.4,239.4 L338.9,238.1 L339.6,237.0 L340.2,235.4 L341.0,233.7 L342.0,232.3 L342.6,231.0 L343.3,229.6 L343.9,228.3 L344.7,227.4 L345.4,225.8 L346.2,224.7 L347.0,223.0 L347.8,221.6 L348.6,220.4 L349.5,219.2 L350.4,217.5 L351.2,216.5 L352.1,215.3 L353.0,214.0 L354.0,212.7 L355.0,210.9 L356.0,210.0 L357.1,208.8 L358.1,207.1 L359.2,206.0 L360.3,204.7 L361.4,203.7 L362.5,202.4 L363.6,201.3 L364.7,200.3 L365.8,198.8 L366.8,197.7 L368.0,196.6 L369.3,195.4 L370.6,194.2 L371.8,193.7 L373.1,192.5 L374.3,191.0 L375.5,190.3 L376.7,189.2 L377.9,188.2 L379.0,187.3 L380.0,186.5 L381.3,185.2 L382.6,183.9 L383.7,182.6 L384.8,181.6 L385.9,180.3 L386.9,179.5 L388.0,178.5 L389.1,177.2 L390.2,175.9 L391.4,174.9 L392.5,173.9 L393.6,172.9 L394.8,171.9 L395.9,170.6 L397.1,169.8 L398.2,168.7 L399.5,167.5 L400.7,166.4 L401.9,165.5 L403.1,164.7 L404.4,163.5 L405.8,162.6 L407.3,161.4 L408.4,160.4 L409.7,159.7 L411.0,158.8 L412.3,157.5 L413.6,156.7 L415.0,155.7 L416.3,155.1 L417.6,154.2 L418.9,153.0 L420.0,152.5 L421.5,151.5 L422.8,150.3 L424.1,149.7 L425.3,148.7 L426.5,148.4 L427.7,147.6 L429.1,147.0 L430.4,146.3 L431.7,145.5 L433.1,144.8 L434.6,144.0 L436.0,143.1 L437.4,142.7 L438.7,141.7 L440.0,141.2 L441.6,140.8 L443.2,139.7 L444.7,139.2 L446.2,138.6 L447.7,138.5 L449.1,137.5 L450.9,136.8 L452.6,136.7 L454.3,135.7 L455.9,135.5 L457.3,134.7 L458.6,133.6 L459.5,132.4 L460.4,130.8 L461.7,129.7 L462.9,128.5 L464.4,128.3 L465.9,127.5 L467.5,127.1 L469.0,126.2 L470.4,126.0 L472.1,125.5 L473.6,124.3 L475.2,123.9 L477.0,123.7 L478.5,123.8 L480.1,123.6 L481.8,123.7 L483.5,123.9 L485.1,124.2 L486.5,124.2 L488.2,123.5 L489.5,122.9 L490.8,122.1 L492.3,121.4 L493.7,121.0 L495.1,120.3 L496.7,120.0 L498.3,119.8 L500.0,118.8 L501.3,118.6 L502.7,117.8 L504.1,117.6 L505.6,117.1 L507.1,116.6 L508.6,116.0 L510.0,115.5 L511.6,115.1 L513.2,114.7 L514.8,113.8 L516.4,113.3 L518.1,113.2 L520.0,112.7 L521.4,112.1 L522.8,111.6 L524.3,111.3 L525.8,110.5 L527.4,110.1 L528.9,109.6 L530.5,109.3 L532.1,108.7 L533.6,108.2 L535.1,108.1 L536.6,107.9 L538.2,107.1 L539.7,106.9 L541.2,106.4 L542.7,106.3 L544.3,105.7 L545.8,105.2 L547.3,104.8 L548.8,104.4 L550.3,104.3 L551.8,104.0 L553.3,103.6 L554.9,103.4 L556.4,103.1 L557.9,103.1 L559.4,102.4 L560.9,102.6 L562.4,102.0 L563.9,101.7 L565.5,101.4 L567.0,101.3 L568.5,100.9 L570.0,100.5 L571.6,100.1 L573.1,99.9 L574.6,99.7 L576.1,99.1 L577.7,99.0 L579.2,98.8 L580.8,98.2 L582.3,97.8 L583.8,97.5 L585.3,97.5 L586.8,97.2 L588.2,97.1 L590.0,96.7 L591.7,96.1 L593.3,95.9 L594.9,95.7 L596.5,95.5 L598.2,95.6 L600.0,95.4 L601.4,95.2 L602.8,94.6 L604.3,94.7 L605.8,94.1 L607.3,93.9 L608.8,93.8 L610.4,93.1 L612.0,92.8 L613.6,92.9 L615.0,92.3 L616.5,91.9 L618.0,91.7 L619.6,91.3 L621.2,90.5 L622.8,90.2 L624.3,89.9 L625.8,89.5 L627.3,89.0 L628.7,88.9 L630.0,88.9 L631.9,88.2 L633.7,88.1 L635.3,87.8 L636.9,87.8 L638.3,88.0 L639.7,87.5 L640.9,87.8 L642.9,87.2 L644.4,85.9 L646.4,85.7 L647.7,85.1 L649.2,85.1 L650.8,84.8 L652.5,84.3 L654.2,84.4 L655.8,84.2 L657.3,84.1 L659.1,83.6 L660.7,83.7 L662.3,83.7 L663.8,83.4 L665.5,83.2 L667.1,82.9 L668.9,83.1 L670.8,82.9 L672.5,83.1 L674.0,83.0 L675.0,82.9" stroke="#d21ed8" stroke-width="2.2" fill="none" stroke-linejoin="round"/>
<!-- arrow -->
<line x1="347.5" y1="98.8" x2="414" y2="166.5" stroke="#a0121c" stroke-width="2"/>
<path d="M420.8,173.2 L409.5,169.8 L417.7,162.3 Z" fill="#d00000"/>
<!-- small arrows -->
<path d="M401,201.3 L418,200.5 L413.6,214.5" stroke="#1a1ab0" stroke-width="1.3" fill="none"/>
<path d="M630.3,211.5 L636.7,221 L644.6,213" stroke="#1a1ab0" stroke-width="1.5" fill="none"/>
<!-- tick labels -->
<g font-size="19.5" font-weight="bold" fill="#000" text-anchor="middle">
<text transform="translate(82.3,398.6) scale(1.02,1)">0</text>
<text transform="translate(215.5,398.6) scale(1.02,1)">100</text>
<text transform="translate(347.2,398.6) scale(1.02,1)">200</text>
<text transform="translate(480.8,398.6) scale(1.02,1)">300</text>
<text transform="translate(614,398.6) scale(1.02,1)">400</text>
</g>
<g font-size="19.5" font-weight="bold" fill="#000" text-anchor="middle">
<text transform="translate(60.2,73.6) scale(1.04,1)">6</text>
<text transform="translate(60,172.6) scale(1.04,1)">4</text>
<text transform="translate(60.2,271.6) scale(1.04,1)">2</text>
<text transform="translate(60.3,368.5) scale(1.04,1)">0</text>
</g>
<text transform="translate(381,432.6) scale(1.035,1)" font-size="19.5" font-weight="bold" text-anchor="middle">Volume, ml</text>
<!-- y label -->
<g transform="translate(33.2,268) rotate(-90)" font-weight="bold" fill="#000">
<text x="0.2" y="0" font-size="24">F</text>
<text transform="translate(14.8,0) scale(1.05,1)" font-size="16.6" font-weight="normal" stroke="#000" stroke-width="0.45">CO</text>
<text x="42.8" y="6.3" font-size="14.3" font-weight="normal" stroke="#000" stroke-width="0.3">2</text>
<text x="57" y="0" font-size="24.5">,</text>
<text x="72.5" y="0.5" font-size="25.5">%</text>
</g>
<!-- delta label -->
<g fill="#b8121c" font-weight="bold">
<text transform="translate(272.5,89.4) scale(1.06,1)" font-size="25" letter-spacing="-0.3"><tspan font-weight="normal">&#916;</tspan><tspan dx="-1.2">V</tspan><tspan font-size="15" dy="6.2">T</tspan><tspan dy="-6.2">CO</tspan><tspan font-size="15.4" font-weight="normal" stroke="#b8121c" stroke-width="0.4" dy="6.5">2</tspan></text>
</g>
<text transform="translate(471.5,271)" font-weight="bold" font-size="24" fill="#1c1c8c">V<tspan font-size="15" dy="4.4">T</tspan><tspan dy="-4.4">CO</tspan><tspan font-size="15" font-weight="normal" stroke="#1c1c8c" stroke-width="0.3" dx="-1.2" dy="6">2</tspan></text>
<!-- Expiration -->
<text transform="translate(400.8,245) rotate(-33)" font-size="21.5" letter-spacing="0.75" fill="#1f1fcf" stroke="#1f1fcf" stroke-width="0.35">Expiration</text>
<text transform="translate(612.3,279) rotate(-81.5) scale(1.03,1)" font-size="22.5" fill="#1f1fcf" stroke="#1f1fcf" stroke-width="0.15">Inspiration</text>
</svg>
</body></html>
